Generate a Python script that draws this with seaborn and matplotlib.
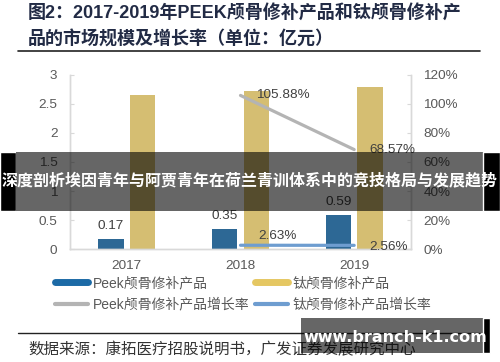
import matplotlib
matplotlib.use("Agg")
import matplotlib.pyplot as plt
from matplotlib.patches import Rectangle
from matplotlib.lines import Line2D
import seaborn as sns
import pandas as pd

# data (亿元 / %)
years = ["2017", "2018", "2019"]
peek_size = [0.17, 0.35, 0.59]
ti_size = [2.66, 2.73, 2.80]
growth_years = ["2018", "2019"]
peek_growth = [105.88, 68.57]
ti_growth = [2.63, 2.56]
series_names = ["Peek颅骨修补产品", "钛颅骨修补产品",
                "Peek颅骨修补产品增长率", "钛颅骨修补产品增长率"]

blue, gold = "#1c6aa6", "#e5c762"
gray_line, blue_line = "#b4b4b4", "#6e9dd0"
txt = "#404040"

sns.set_style("white")
plt.rcParams["font.family"] = ["Liberation Sans", "Noto Sans CJK SC"]

bars = pd.DataFrame({
    "year": years * 2,
    "product": [series_names[0]] * 3 + [series_names[1]] * 3,
    "value": peek_size + ti_size,
})
xpos = [years.index(y) for y in growth_years]

fig = plt.figure(figsize=(5, 3.62), dpi=100)
ax = fig.add_axes([0.14, 0.312, 0.682, 0.481])

sns.barplot(data=bars, x="year", y="value", hue="product",
            palette={series_names[0]: blue, series_names[1]: gold},
            width=0.56, gap=0.2, linewidth=0, legend=False, ax=ax)
ax.set_ylim(0, 3)
ax.set_yticks([0, 0.5, 1, 1.5, 2, 2.5, 3])
ax.set_yticklabels(["0", "0.5", "1", "1.5", "2", "2.5", "3"])
ax.set_xlabel("")
ax.set_ylabel("")

# value labels on the Peek bars
for i, v in enumerate(peek_size):
    ax.annotate(f"{v:.2f}", (i - 0.14, v), xytext=(0, 5), textcoords="offset points",
                ha="center", va="bottom", fontsize=9.7, color=txt)

ax2 = ax.twinx()
sns.lineplot(x=xpos, y=peek_growth, color=gray_line, linewidth=2.3, ax=ax2)
sns.lineplot(x=xpos, y=ti_growth, color=blue_line, linewidth=2.3, ax=ax2)
ax2.set_ylim(0, 120)
ax2.set_yticks(range(0, 121, 20))
ax2.set_yticklabels([f"{t}%" for t in range(0, 121, 20)])
ax.set_xlim(-0.5, 2.5)

for x, v in zip(xpos, peek_growth):
    ax2.annotate(f"{v:.2f}%", (x, v), xytext=(11, 0), textcoords="offset points",
                 ha="left", va="center", fontsize=9.7, color=txt)
ti_offsets = [(13, 7), (11, -1)]
for (x, v), off in zip(zip(xpos, ti_growth), ti_offsets):
    ax2.annotate(f"{v:.2f}%", (x, v), xytext=off, textcoords="offset points",
                 ha="left", va="center", fontsize=9.7, color=txt)

for a in (ax, ax2):
    a.spines["top"].set_visible(False)
    for s in ("left", "right", "bottom"):
        a.spines[s].set_color("#d9d9d9")
        a.spines[s].set_linewidth(1)
    a.tick_params(axis="y", direction="in", length=3, color="#d9d9d9",
                  labelsize=9.7, labelcolor="#595959", pad=9)
    a.tick_params(axis="x", length=0, labelsize=9.7, labelcolor="#595959", pad=8)

# legend: rows = bars, growth lines (ncol fills column by column)
handles = [Line2D([], [], color=blue, lw=5), Line2D([], [], color=gray_line, lw=3),
           Line2D([], [], color=gold, lw=5), Line2D([], [], color=blue_line, lw=3)]
labels = [series_names[0], series_names[2], series_names[1], series_names[3]]
fig.legend(handles, labels, ncol=2, loc="center", bbox_to_anchor=(0.486, 0.188),
           frameon=False, fontsize=10, labelcolor="#595959", handlelength=2.4,
           handletextpad=0.3, columnspacing=0.4, labelspacing=0.55)

# title, rules and source
title_kw = dict(fontsize=13, fontweight="bold", color="#222b45", ha="left", va="center")
fig.text(0.056, 0.964, "图2：2017-2019年PEEK颅骨修补产品和钛颅骨修补产", **title_kw)
fig.text(0.056, 0.89, "品的市场规模及增长率（单位：亿元）", **title_kw)
fig.add_artist(Line2D([0.036, 0.96], [0.859, 0.859], color="#222222", lw=1.2,
                      transform=fig.transFigure))
fig.add_artist(Line2D([0.036, 0.96], [0.08, 0.08], color="#222222", lw=1.0,
                      transform=fig.transFigure))
fig.text(0.056, 0.033, "数据来源：康拓医疗招股说明书，广发证券发展研究中心",
         fontsize=11.2, color="#333333", ha="left", va="center")

# overlay banner
fig.add_artist(Rectangle((0, 0.417), 0.032, 0.163, facecolor="black",
                         transform=fig.transFigure, zorder=10))
fig.add_artist(Rectangle((0.032, 0.417), 0.934, 0.163, facecolor="black", alpha=0.6,
                         lw=0, transform=fig.transFigure, zorder=10))
fig.add_artist(Rectangle((0.966, 0.417), 0.034, 0.163, facecolor="black",
                         transform=fig.transFigure, zorder=10))
fig.text(0.5, 0.503, "深度剖析埃因青年与阿贾青年在荷兰青训体系中的竞技格局与发展趋势",
         fontsize=11.5, fontweight="bold", color="white", ha="center", va="center",
         family=["Noto Sans CJK SC"], zorder=11)

# watermark box
fig.add_artist(Rectangle((0.602, 0.025), 0.364, 0.097, facecolor="black", alpha=0.6,
                         lw=0, transform=fig.transFigure, zorder=10))
fig.add_artist(Rectangle((0.966, 0.025), 0.014, 0.097, facecolor="black",
                         transform=fig.transFigure, zorder=10))
fig.text(0.79, 0.069, "www.branch-k1.com", fontsize=11.5, fontweight="bold",
         color="white", ha="center", va="center", family=["DejaVu Sans"], zorder=11)

fig.savefig("out.png", dpi=100)
